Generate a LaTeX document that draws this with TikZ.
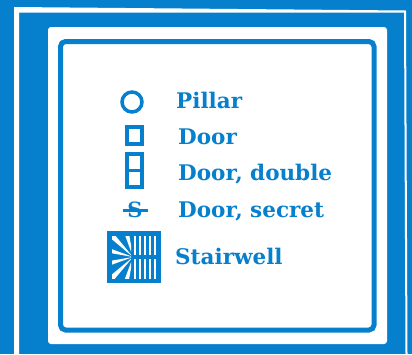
\documentclass[tikz,border=0pt]{standalone}
\usepackage{fontspec}
\setmainfont{DejaVu Serif}
\usetikzlibrary{positioning}
\definecolor{mapblue}{RGB}{6,128,204}
\begin{document}
\begin{tikzpicture}[x=1pt,y=-1pt,
  lbl/.style={anchor=base west,text=mapblue,inner sep=0pt,font=\bfseries\fontsize{21.5}{21.5}\selectfont},
  sym/.style={draw=mapblue,line width=3.5pt}
]
\useasboundingbox (0,0) rectangle (412,354);
\fill[mapblue] (0,0) rectangle (412,354);
% outer white line
\fill[white] (14,7) -- (406,10.5) -- (407.5,354) -- (405.5,354) -- (404,12.7) -- (19,12.5) -- (19,354) -- (14,354) -- cycle;
\fill[white,rounded corners=3pt] (48,27) rectangle (387,344);
\draw[mapblue,line width=5pt,rounded corners=5pt] (60.5,41.5) rectangle (374,330);
% symbols
\node[sym,circle,minimum size=20pt,inner sep=0pt] (pillar) at (132,102) {};
\node[sym,minimum width=15pt,minimum height=17pt,inner sep=0pt] (door) at (134.5,135.5) {};
\node[sym,minimum width=15pt,minimum height=33pt,inner sep=0pt] (double) at (134.5,170.5) {};
\draw[sym] (double.west) -- (double.east);
\node[lbl] (pillartxt) at (176,108) {Pillar};
\node[lbl] (doortxt) at (178,144) {Door};
\node[lbl] (doubletxt) at (178,180) {Door, double};
\node[lbl] (secrettxt) at (178,217) {Door, secret};
\node[lbl] (stairtxt) at (175,264) {Stairwell};
\node[text=mapblue,inner sep=0pt,font=\bfseries\fontsize{21}{21}\selectfont] (secret) at (135,210) {S};
\draw[mapblue,line width=3pt] (123,210) -- (148,210);
% stairwell
\fill[mapblue] (107,231) rectangle (161,283);
\begin{scope}
  \clip (112,236) rectangle (131,278);
  \foreach \a in {105,135,165,195,225,255}
    \fill[white] (133,257) -- ++(\a-5:50) -- ++(\a+95:9) -- cycle;
\end{scope}
\foreach \x in {134.5,139.5,144.5,149.5,154.5}{
  \fill[white] (\x-1,236) rectangle (\x+1,255);
  \fill[white] (\x-1,259) rectangle (\x+1,279);
}
\end{tikzpicture}
\end{document}
